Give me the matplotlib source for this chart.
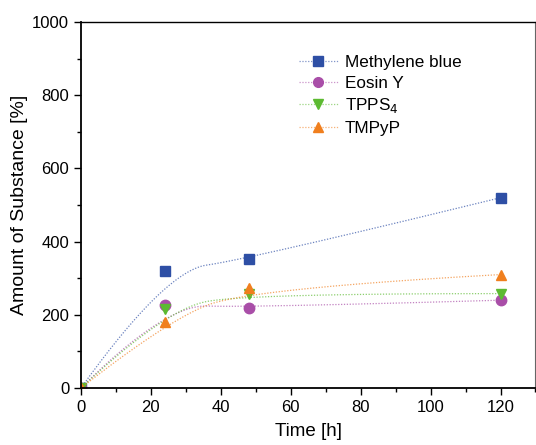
import numpy as np
import matplotlib
matplotlib.use("Agg")
import matplotlib.pyplot as plt
from matplotlib.lines import Line2D
from matplotlib.colors import to_rgba

plt.rcParams['font.family'] = ['Liberation Sans', 'DejaVu Sans']

time_h = [0, 24, 48, 120]
methylene_blue = [0, 320, 352, 520]
eosin_y = [0, 228, 220, 240]
tpps4 = [0, 215, 258, 258]
tmpyp = [0, 180, 272, 310]

names = ["Methylene blue", "Eosin Y", r"TPPS$_4$", "TMPyP"]
series = [methylene_blue, eosin_y, tpps4, tmpyp]
colors = ["#2e4fa5", "#a94ea8", "#5cba31", "#f07f1e"]
markers = ["s", "o", "v", "^"]


def bspline(xs, ys, degree=2, num=400):
    """Clamped uniform B-spline using the data points as control points."""
    P = np.column_stack([xs, ys]).astype(float)
    n = len(P)
    inner = np.linspace(0, 1, n - degree + 1)
    knots = np.concatenate([[0] * degree, inner, [1] * degree])
    us = np.linspace(0, 1, num)
    out = []
    for u in us:
        N = np.zeros(len(knots) - 1)
        for i in range(len(knots) - 1):
            if knots[i] <= u < knots[i + 1]:
                N[i] = 1.0
        if u >= 1.0:
            idx = np.max(np.where(knots[:-1] < knots[1:])[0])
            N[:] = 0
            N[idx] = 1.0
        for d in range(1, degree + 1):
            Nn = np.zeros(len(knots) - 1 - d)
            for i in range(len(Nn)):
                a = 0.0
                if knots[i + d] != knots[i]:
                    a = (u - knots[i]) / (knots[i + d] - knots[i]) * N[i]
                b = 0.0
                if knots[i + d + 1] != knots[i + 1]:
                    b = (knots[i + d + 1] - u) / (knots[i + d + 1] - knots[i + 1]) * N[i + 1]
                Nn[i] = a + b
            N = Nn
        out.append(N[:n] @ P)
    out = np.array(out)
    return out[:, 0], out[:, 1]


fig = plt.figure(figsize=(5.36, 4.45), dpi=100)
ax = fig.add_axes([0.151, 0.128, 0.848, 0.8225])

ls = (0, (1, 1.3))
handles = []
for name, ys, c, m in zip(names, series, colors, markers):
    cx, cy = bspline(time_h, ys)
    lc = to_rgba(c, 0.7)
    ax.plot(cx, cy, linestyle=ls, color=lc, lw=0.9)
    ax.plot(time_h, ys, linestyle='none', marker=m, color=c, markersize=7.5)
    handles.append(Line2D([], [], linestyle=ls, lw=0.9, color=to_rgba(c, 0.6),
                          marker=m, markersize=7, markerfacecolor=c,
                          markeredgecolor=c, label=name))

ax.set_xlim(0, 130)
ax.set_ylim(0, 1000)
ax.set_xticks(np.arange(0, 121, 20))
ax.set_xticks(np.arange(0, 131, 10), minor=True)
ax.set_yticks(np.arange(0, 1001, 200))
ax.set_yticks(np.arange(0, 1001, 100), minor=True)
ax.tick_params(which='both', direction='out', labelsize=12, width=1)
ax.tick_params(which='major', length=5)
ax.tick_params(which='minor', length=3)
for s in ['left', 'bottom']:
    ax.spines[s].set_linewidth(1.3)
ax.spines['top'].set_linewidth(1.0)
ax.spines['right'].set_linewidth(0.8)
ax.spines['right'].set_color('#666666')
ax.set_xlabel("Time [h]", fontsize=13.5, labelpad=6)
ax.set_ylabel("Amount of Substance [%]", fontsize=14, labelpad=3)

ax.legend(handles=handles, loc='upper left', bbox_to_anchor=(0.445, 0.952), frameon=False,
          fontsize=12.3, handlelength=2.3, labelspacing=0.33, handletextpad=0.4)

fig.savefig("out.png", dpi=100)
